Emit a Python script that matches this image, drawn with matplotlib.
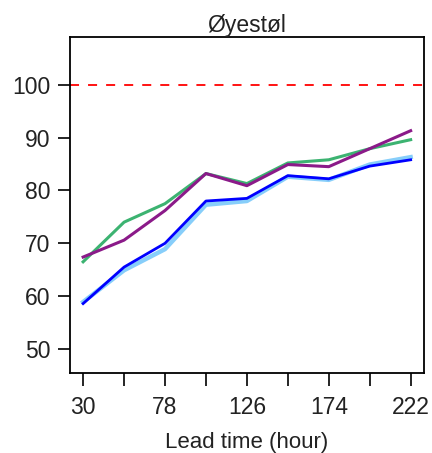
import matplotlib.pyplot as plt
import numpy as np

plt.rcParams['font.family'] = ['Liberation Sans', 'DejaVu Sans']

lead_time = [30, 54, 78, 102, 126, 150, 174, 198, 222]
green = [66.5, 74.0, 77.5, 83.2, 81.3, 85.2, 85.8, 87.9, 89.6]
purple = [67.4, 70.6, 76.2, 83.2, 80.9, 84.9, 84.5, 87.9, 91.3]
blue = [58.6, 65.5, 70.0, 78.0, 78.5, 82.8, 82.2, 84.6, 85.8]
lightblue = [58.9, 64.9, 68.9, 77.3, 78.0, 82.6, 82.0, 84.9, 86.3]
target = 100

fig = plt.figure(figsize=(4.32, 4.53), dpi=100)
ax = fig.add_axes([0.162, 0.177, 0.819, 0.741])

ax.axhline(target, color='red', linestyle=(0, (5, 5)), linewidth=1.3)
ax.plot(lead_time, lightblue, color='#87cefa', linewidth=3.2)
ax.plot(lead_time, blue, color='#0000ff', linewidth=2.0)
ax.plot(lead_time, green, color='#3cb371', linewidth=2.2)
ax.plot(lead_time, purple, color='#8b1a89', linewidth=2.2)

ax.set_xlim(22.3, 229.7)
ax.set_ylim(45.5, 109)
ax.set_xticks(lead_time)
ax.set_xticklabels([str(t) if i % 2 == 0 else '' for i, t in enumerate(lead_time)])
ax.set_yticks(np.arange(50, 101, 10))
ax.tick_params(length=9, width=1.2, labelsize=16.5, pad=5, color='black', labelcolor='#222222')
ax.tick_params(axis='x', pad=8)
for s in ax.spines.values():
    s.set_linewidth(1.3)

ax.set_title('Øyestøl', fontsize=16.5, pad=4, color='#222222')
ax.set_xlabel('Lead time (hour)', fontsize=16, labelpad=9, color='#222222')

fig.savefig('out.png', dpi=100)
